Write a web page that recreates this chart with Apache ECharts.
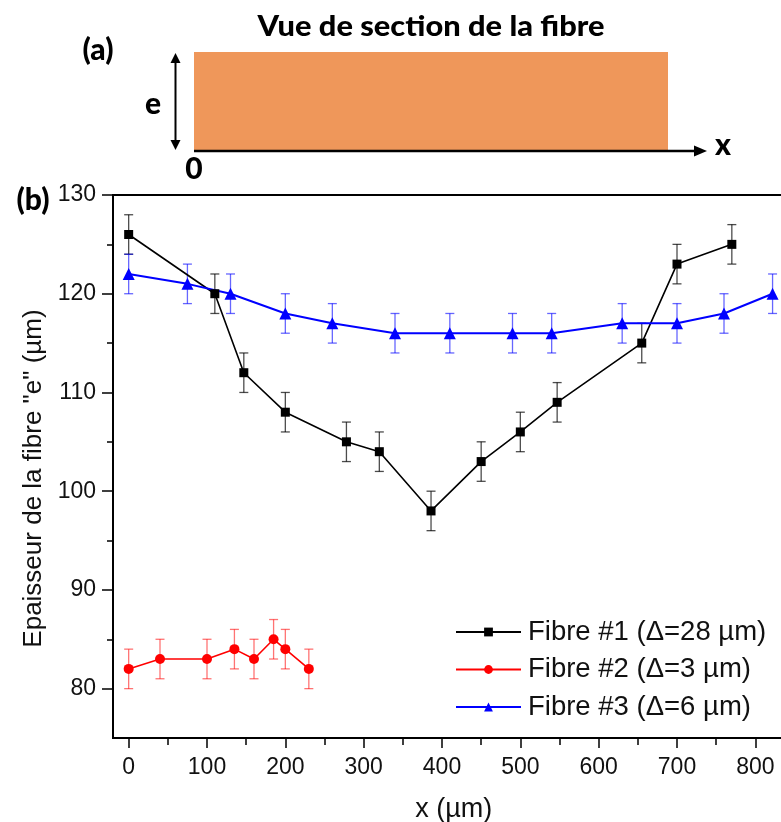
<!DOCTYPE html>
<html>
<head>
<meta charset="utf-8">
<script src="https://cdn.jsdelivr.net/npm/echarts@6/dist/echarts.min.js"></script>
<style>
html,body{margin:0;padding:0;background:#fff;}
#chart{width:781px;height:822px;}
</style>
</head>
<body>
<div id="chart"></div>
<script>
// ---- data ----
const xTickValues = [0, 100, 200, 300, 400, 500, 600, 700, 800];
const xMinorValues = [50, 150, 250, 350, 450, 550, 650, 750];
const yTickValues = [80, 90, 100, 110, 120, 130];
const yMinorValues = [85, 95, 105, 115, 125];

const seriesNames = ['Fibre #1 (\u0394=28 \u00b5m)', 'Fibre #2 (\u0394=3 \u00b5m)', 'Fibre #3 (\u0394=6 \u00b5m)'];

const fibre1X = [0, 110, 147, 200, 278, 320, 386, 450, 500, 547, 655, 700, 770];
const fibre1Y = [126, 120, 112, 108, 105, 104, 98, 103, 106, 109, 115, 123, 125];
const fibre1Err = [2, 2, 2, 2, 2, 2, 2, 2, 2, 2, 2, 2, 2];

const fibre2X = [0, 40, 100, 135, 160, 185, 200, 230];
const fibre2Y = [82, 83, 83, 84, 83, 85, 84, 82];
const fibre2Err = [2, 2, 2, 2, 2, 2, 2, 2];

const fibre3X = [0, 75, 130, 200, 260, 340, 410, 490, 540, 630, 700, 760, 822];
const fibre3Y = [122, 121, 120, 118, 117, 116, 116, 116, 116, 117, 117, 118, 120];
const fibre3Err = [2, 2, 2, 2, 2, 2, 2, 2, 2, 2, 2, 2, 2];

// ---- build ----
function pts(xs, ys) { return xs.map((x, i) => [x, ys[i]]); }
function errPts(xs, ys, es) { return xs.map((x, i) => [x, ys[i], es[i]]); }

function errorSeries(name, data, color) {
  return {
    type: 'custom',
    name: name,
    data: data,
    z: 2,
    silent: true,
    encode: { x: 0, y: 1 },
    renderItem: function (params, api) {
      const x = api.value(0), y = api.value(1), e = api.value(2);
      const t = api.coord([x, y + e]);
      const b = api.coord([x, y - e]);
      const hw = 4.5;
      const st = { stroke: color, lineWidth: 1.3 };
      return {
        type: 'group',
        children: [
          { type: 'line', shape: { x1: t[0], y1: t[1], x2: b[0], y2: b[1] }, style: st },
          { type: 'line', shape: { x1: t[0] - hw, y1: t[1], x2: t[0] + hw, y2: t[1] }, style: st },
          { type: 'line', shape: { x1: b[0] - hw, y1: b[1], x2: b[0] + hw, y2: b[1] }, style: st }
        ]
      };
    }
  };
}

const FONT = '"Liberation Sans", Arial, sans-serif';
const BOLD_FONT = 'Lato, "Open Sans", sans-serif';

const chart = echarts.init(document.getElementById('chart'), null, { renderer: 'canvas' });

const option = {
  animation: false,
  backgroundColor: '#fff',
  textStyle: { fontFamily: FONT },
  grid: {
    left: 113, top: 195, width: 681.5, height: 543,
    show: true, borderColor: '#000', borderWidth: 2,
    backgroundColor: 'transparent',
    containLabel: false,
    outerBoundsMode: 'none'
  },
  legend: {
    orient: 'vertical',
    left: 455, top: 618,
    padding: 0,
    itemGap: 9.5,
    itemWidth: 65,
    itemHeight: 11,
    data: seriesNames,
    textStyle: { fontFamily: FONT, fontSize: 27.5, color: '#111', lineHeight: 28, padding: [0, 0, 0, 2] }
  },
  xAxis: [
    {
      type: 'value', min: -20, max: 850, gridIndex: 0, position: 'bottom',
      axisLine: { show: true, onZero: false, lineStyle: { color: '#000', width: 2 } },
      axisTick: { show: true, customValues: xTickValues, length: 10, lineStyle: { color: '#000', width: 1.5 } },
      axisLabel: { customValues: xTickValues, fontSize: 23, color: '#111', margin: 18, fontFamily: FONT },
      splitLine: { show: false },
      name: 'x (\u00b5m)', nameLocation: 'middle', nameGap: 58,
      nameTextStyle: { fontSize: 27, color: '#111', fontFamily: FONT }
    },
    {
      type: 'value', min: -20, max: 850, gridIndex: 0, position: 'bottom',
      axisLine: { show: false, onZero: false },
      axisTick: { show: true, customValues: xMinorValues, length: 7, lineStyle: { color: '#000', width: 1.5 } },
      axisLabel: { show: false },
      splitLine: { show: false }
    }
  ],
  yAxis: [
    {
      type: 'value', min: 75, max: 130, gridIndex: 0, position: 'left',
      axisLine: { show: true, onZero: false, lineStyle: { color: '#000', width: 2 } },
      axisTick: { show: true, customValues: yTickValues, length: 11, lineStyle: { color: '#000', width: 1.5 } },
      axisLabel: { customValues: yTickValues, fontSize: 23, color: '#111', margin: 17, fontFamily: FONT },
      splitLine: { show: false },
      name: 'Epaisseur de la fibre "e" (\u00b5m)', nameLocation: 'middle', nameGap: 65, nameRotate: 90,
      nameTextStyle: { fontSize: 26, color: '#111', fontFamily: FONT, padding: [0, 24, 0, 0] }
    },
    {
      type: 'value', min: 75, max: 130, gridIndex: 0, position: 'left',
      axisLine: { show: false, onZero: false },
      axisTick: { show: true, customValues: yMinorValues, length: 6, lineStyle: { color: '#000', width: 1.5 } },
      axisLabel: { show: false },
      splitLine: { show: false }
    }
  ],
  series: [
    errorSeries('err1', errPts(fibre1X, fibre1Y, fibre1Err), 'rgba(0,0,0,0.7)'),
    errorSeries('err2', errPts(fibre2X, fibre2Y, fibre2Err), 'rgba(255,0,0,0.55)'),
    errorSeries('err3', errPts(fibre3X, fibre3Y, fibre3Err), 'rgba(0,0,255,0.6)'),
    {
      type: 'line', name: seriesNames[0], data: pts(fibre1X, fibre1Y), z: 5,
      symbol: 'rect', symbolSize: 9, color: '#000',
      lineStyle: { color: '#000', width: 1.6 }, itemStyle: { color: '#000' }
    },
    {
      type: 'line', name: seriesNames[1], data: pts(fibre2X, fibre2Y), z: 5,
      symbol: 'circle', symbolSize: 10, color: '#ff0000',
      lineStyle: { color: '#ff0000', width: 1.6 }, itemStyle: { color: '#ff0000' }
    },
    {
      type: 'line', name: seriesNames[2], data: pts(fibre3X, fibre3Y), z: 5,
      symbol: 'triangle', symbolSize: 12, color: '#0000ff',
      lineStyle: { color: '#0000ff', width: 2 }, itemStyle: { color: '#0000ff' }
    }
  ],
  graphic: [
    // panel (a) schematic
    { type: 'rect', shape: { x: 194, y: 52, width: 474, height: 99 }, style: { fill: '#EF975A' }, z: 1 },
    { type: 'line', shape: { x1: 194, y1: 151, x2: 698, y2: 151 }, style: { stroke: '#000', lineWidth: 2.5 }, z: 2 },
    { type: 'polygon', shape: { points: [[694, 145.5], [707, 151], [694, 156.5]] }, style: { fill: '#000' }, z: 2 },
    { type: 'line', shape: { x1: 175.5, y1: 60, x2: 175.5, y2: 143 }, style: { stroke: '#000', lineWidth: 2 }, z: 2 },
    { type: 'polygon', shape: { points: [[170.5, 63], [175.5, 53], [180.5, 63]] }, style: { fill: '#000' }, z: 2 },
    { type: 'polygon', shape: { points: [[170.5, 140], [175.5, 150], [180.5, 140]] }, style: { fill: '#000' }, z: 2 },
    { type: 'text', x: 431, y: 27, scaleX: 1.1, style: { text: 'Vue de section de la fibre', font: '900 28px ' + BOLD_FONT, fill: '#000', align: 'center', verticalAlign: 'middle' }, z: 3 },
    { type: 'text', x: 98, y: 50, style: { text: '(a)', font: '900 30px ' + BOLD_FONT, fill: '#000', align: 'center', verticalAlign: 'middle' }, z: 3 },
    { type: 'text', x: 153, y: 104, style: { text: 'e', font: '900 30px ' + BOLD_FONT, fill: '#000', align: 'center', verticalAlign: 'middle' }, z: 3 },
    { type: 'text', x: 194, y: 169, style: { text: '0', font: '900 30px ' + BOLD_FONT, fill: '#000', align: 'center', verticalAlign: 'middle' }, z: 3 },
    { type: 'text', x: 723, y: 145, style: { text: 'x', font: '900 30px ' + BOLD_FONT, fill: '#000', align: 'center', verticalAlign: 'middle' }, z: 3 },
    { type: 'text', x: 33, y: 200, style: { text: '(b)', font: '900 30px ' + BOLD_FONT, fill: '#000', align: 'center', verticalAlign: 'middle' }, z: 3 }
  ]
};

chart.setOption(option);
</script>
</body>
</html>
